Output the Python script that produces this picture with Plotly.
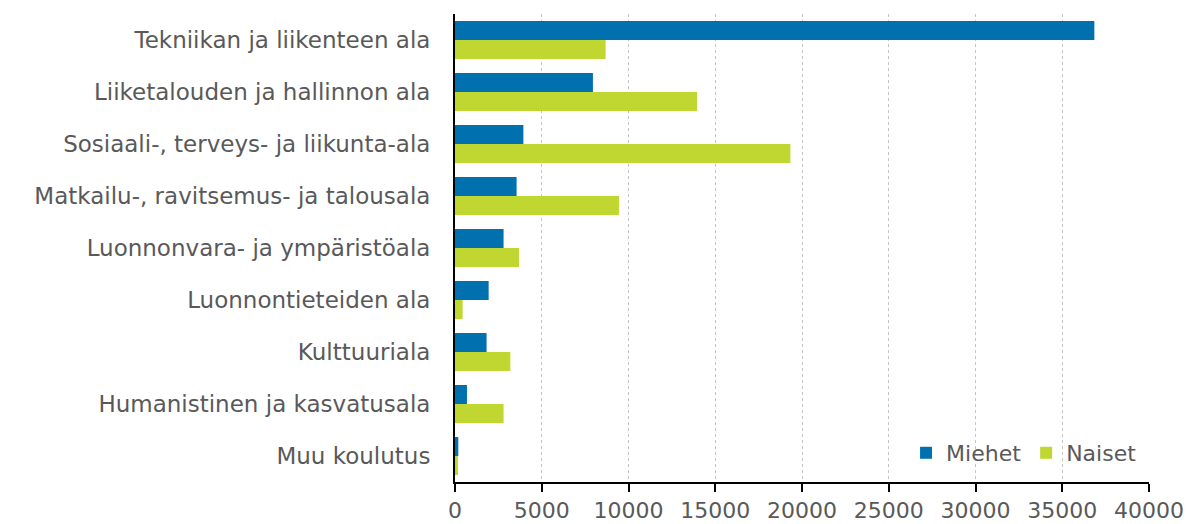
import plotly.graph_objects as go

categories = [
    "Tekniikan ja liikenteen ala",
    "Liiketalouden ja hallinnon ala",
    "Sosiaali-, terveys- ja liikunta-ala",
    "Matkailu-, ravitsemus- ja talousala",
    "Luonnonvara- ja ympäristöala",
    "Luonnontieteiden ala",
    "Kulttuuriala",
    "Humanistinen ja kasvatusala",
    "Muu koulutus",
]
miehet = [36850, 7950, 3940, 3550, 2800, 1940, 1820, 690, 190]
naiset = [8680, 13950, 19330, 9450, 3690, 440, 3190, 2800, 170]
x_ticks = [0, 5000, 10000, 15000, 20000, 25000, 30000, 35000, 40000]

font_family = "DejaVu Sans, Verdana, sans-serif"
text_color = "#595959"

fig = go.Figure()
fig.add_trace(go.Bar(y=categories, x=miehet, name="Miehet", orientation="h",
                     marker=dict(color="#0070AF", line=dict(width=0))))
fig.add_trace(go.Bar(y=categories, x=naiset, name="Naiset", orientation="h",
                     marker=dict(color="#BFD730", line=dict(width=0))))

fig.update_layout(
    width=1192, height=524,
    margin=dict(l=447, r=51, t=6, b=50),
    barmode="group", bargap=0.27, bargroupgap=0,
    plot_bgcolor="white", paper_bgcolor="white",
    font=dict(family=font_family, size=22, color=text_color),
    legend=dict(orientation="h", x=0.99, xanchor="right", y=0.062, yanchor="middle",
                font=dict(size=22, color=text_color), bgcolor="rgba(0,0,0,0)",
                itemwidth=30, traceorder="normal"),
    showlegend=True,
)
fig.update_xaxes(range=[0, 40000], tickvals=x_ticks, ticktext=[str(v) for v in x_ticks],
                 showgrid=True, gridcolor="#c4c4c4", griddash="dot", gridwidth=1,
                 showline=True, linecolor="black", linewidth=1.5,
                 ticks="outside", ticklen=8, tickcolor="black", tickwidth=1.5,
                 zeroline=False, automargin=False, tickfont=dict(size=22, color=text_color))
fig.update_yaxes(autorange="reversed", showline=True, linecolor="black", linewidth=2,
                 ticks="", ticklabelstandoff=18, showgrid=False, automargin=False,
                 tickfont=dict(size=23, color=text_color))

fig.write_html("out.html")
